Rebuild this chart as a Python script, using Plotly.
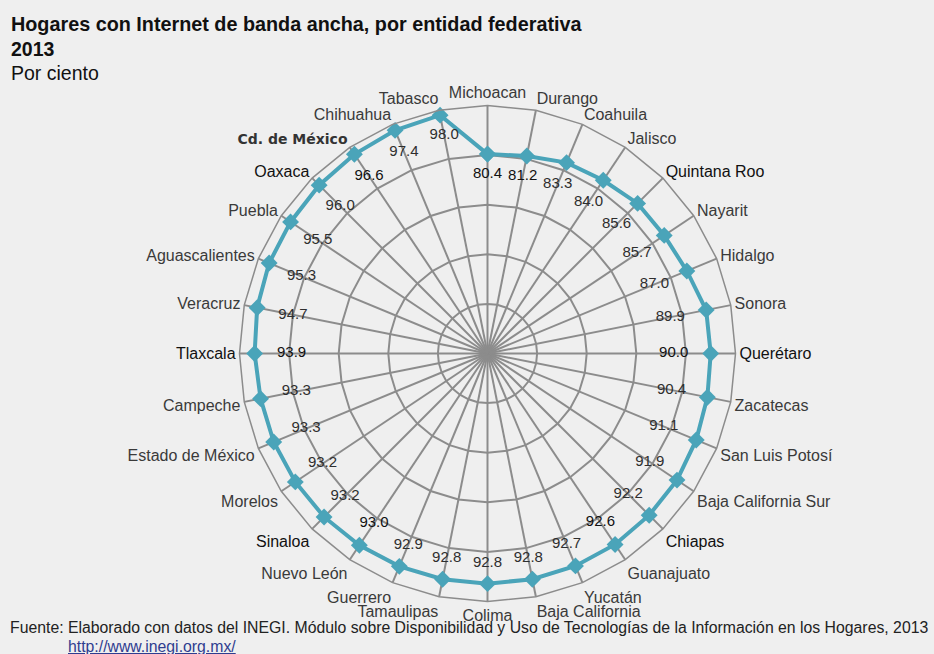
import numpy as np
import plotly.graph_objects as go

# Entidades en el orden del radar (sentido horario desde arriba)
entidades = [
    "Michoacan", "Durango", "Coahuila", "Jalisco", "Quintana Roo", "Nayarit",
    "Hidalgo", "Sonora", "Querétaro", "Zacatecas", "San Luis Potosí",
    "Baja California Sur", "Chiapas", "Guanajuato", "Yucatán", "Baja California",
    "Colima", "Tamaulipas", "Guerrero", "Nuevo León", "Sinaloa", "Morelos",
    "Estado de México", "Campeche", "Tlaxcala", "Veracruz", "Aguascalientes",
    "Puebla", "Oaxaca", "Cd. de México", "Chihuahua", "Tabasco",
]
porcentaje = [
    80.4, 81.2, 83.3, 84.0, 85.6, 85.7, 87.0, 89.9, 90.0, 90.4, 91.1,
    91.9, 92.2, 92.6, 92.7, 92.8, 92.8, 92.8, 92.9, 93.0, 93.2, 93.2,
    93.3, 93.3, 93.9, 94.7, 95.3, 95.5, 96.0, 96.6, 97.4, 98.0,
]

# Etiquetas que aparecen más oscuras
destacadas = {"Cd. de México", "Oaxaca", "Quintana Roo", "Tlaxcala", "Querétaro",
              "Sinaloa", "Chiapas"}
valores_oscuros = {0, 1, 8, 13, 19, 24, 29}

W, H = 934, 654
BG = "#efefef"
GRID = "#8c8c8c"
TEAL = "#4aa4b9"
TXT = "#3a3a3a"

cx, cy, R = 487.5, 353.5, 248.0  # centro y radio del radar en pixeles

n = len(entidades)
v = np.array(porcentaje)
phi = np.deg2rad(90 - np.arange(n) * 360 / n)
# Etiquetas de valor: hacia el centro, más separadas en horizontal
inset_px = np.sqrt((37 * np.cos(phi)) ** 2 + (20 * np.sin(phi)) ** 2)
r_text = v - inset_px / (R / 100.0)


def tick_label(name):
    if name == "Cd. de México":
        return ("<span style='font-family:DejaVu Sans;font-weight:bold;"
                "font-size:14px;color:#333'>" + name + "</span>")
    if name in destacadas:
        return "<span style='color:#111'>" + name + "</span>"
    return name


fig = go.Figure()

fig.add_trace(go.Scatterpolar(
    r=porcentaje + [porcentaje[0]],
    theta=entidades + [entidades[0]],
    mode="lines+markers",
    line=dict(color=TEAL, width=4),
    marker=dict(symbol="diamond", size=13, color=TEAL),
    hoverinfo="skip",
    showlegend=False,
))

fig.add_trace(go.Scatterpolar(
    r=r_text,
    theta=entidades,
    mode="text",
    text=[f"{x:.1f}" for x in porcentaje],
    textposition="middle center",
    textfont=dict(
        family="Liberation Sans, Arial, sans-serif",
        size=15,
        color=["#111" if i in valores_oscuros else "#2e2e2e" for i in range(n)],
    ),
    hoverinfo="skip",
    showlegend=False,
))

fig.update_layout(
    width=W, height=H,
    margin=dict(l=0, r=0, t=0, b=0),
    paper_bgcolor=BG,
    plot_bgcolor=BG,
    font=dict(family="Liberation Sans, Arial, sans-serif", color=TXT, size=16),
    polar=dict(
        domain=dict(x=[(cx - R) / W, (cx + R) / W],
                    y=[(H - cy - R) / H, (H - cy + R) / H]),
        bgcolor=BG,
        gridshape="linear",
        radialaxis=dict(
            range=[0, 100], dtick=20, showticklabels=False, ticks="",
            showline=False, gridcolor=GRID, gridwidth=1.5,
        ),
        angularaxis=dict(
            type="category",
            categoryorder="array",
            categoryarray=entidades,
            tickmode="array",
            tickvals=entidades,
            ticktext=[tick_label(e) for e in entidades],
            direction="clockwise",
            rotation=90,
            ticks="",
            showline=True, linecolor=GRID, linewidth=1.5,
            gridcolor=GRID, gridwidth=1.5,
            tickfont=dict(size=16, color=TXT),
        ),
    ),
)

px = lambda x: x / W
py = lambda y: 1 - y / H

fig.add_annotation(x=px(9), y=py(11), xref="paper", yref="paper",
                   xanchor="left", yanchor="top", showarrow=False,
                   text="<b>Hogares con Internet de banda ancha, por entidad federativa</b>",
                   font=dict(size=19.8, color="#111"))
fig.add_annotation(x=px(9), y=py(36), xref="paper", yref="paper",
                   xanchor="left", yanchor="top", showarrow=False,
                   text="<b>2013</b>", font=dict(size=19.5, color="#111"))
fig.add_annotation(x=px(9), y=py(60), xref="paper", yref="paper",
                   xanchor="left", yanchor="top", showarrow=False,
                   text="Por ciento", font=dict(size=19.5, color="#111"))

fig.add_annotation(x=px(8), y=py(617), xref="paper", yref="paper",
                   xanchor="left", yanchor="top", showarrow=False,
                   text=("Fuente: Elaborado con datos del INEGI. Módulo sobre Disponibilidad "
                         "y Uso de Tecnologías de la Información en los Hogares, 2013"),
                   font=dict(size=15.8, color="#222"))
fig.add_annotation(x=px(66), y=py(636), xref="paper", yref="paper",
                   xanchor="left", yanchor="top", showarrow=False,
                   text="<u>http://www.inegi.org.mx/</u>",
                   font=dict(size=15.8, color="#2f3d8f"))

fig.write_html("out.html")
